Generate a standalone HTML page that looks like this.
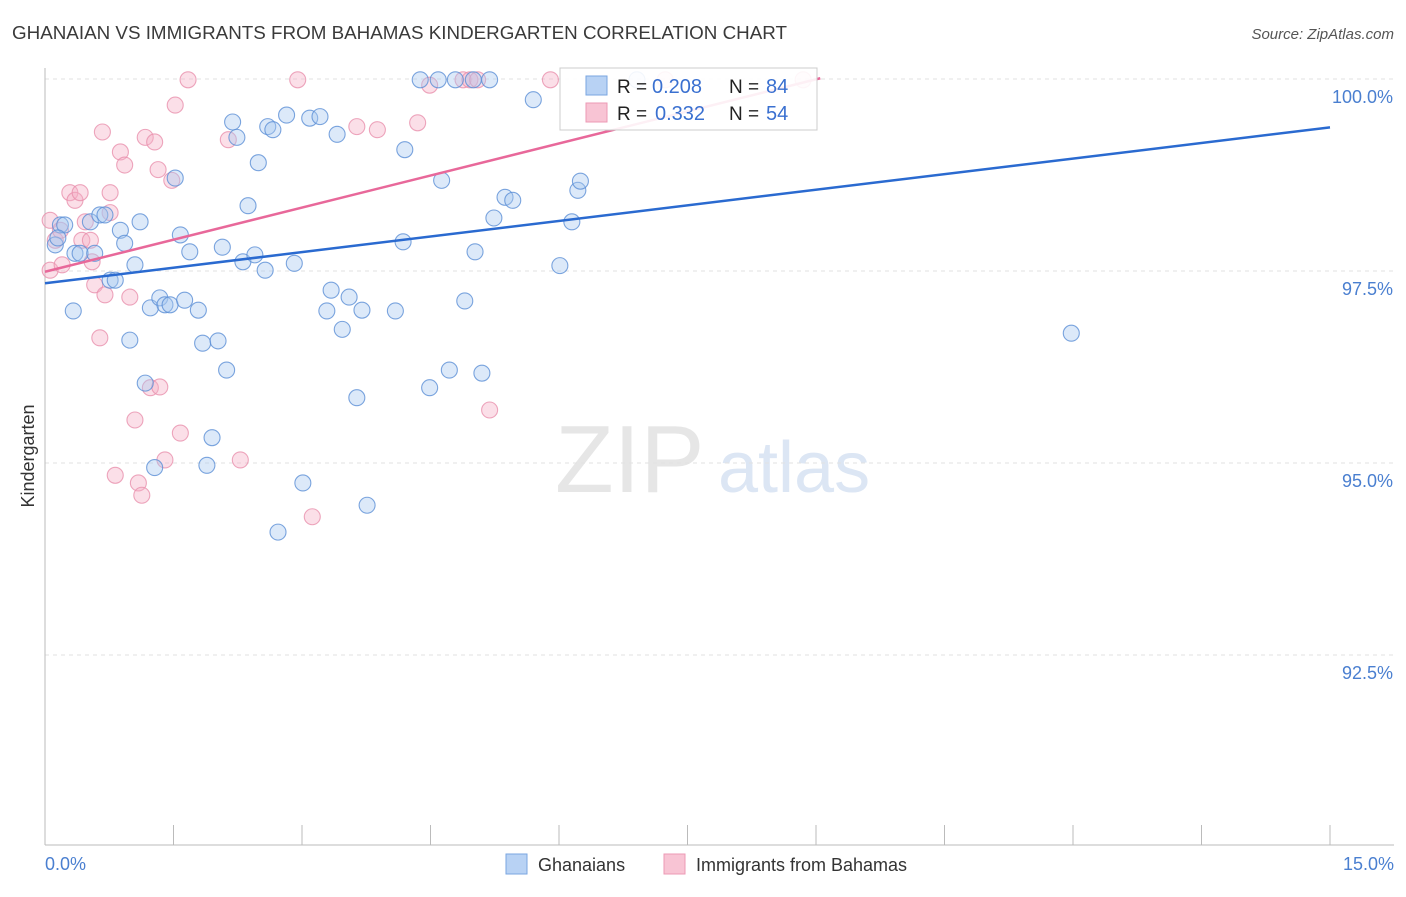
<!DOCTYPE html>
<html><head><meta charset="utf-8"><style>
body{margin:0;background:#fff;font-family:"Liberation Sans",sans-serif;}
svg text{font-family:"Liberation Sans",sans-serif;}
</style></head><body>
<svg id="chart" width="1406" height="892" xmlns="http://www.w3.org/2000/svg">
<text x="12" y="39" font-size="18" fill="#3a3a3a" textLength="775" lengthAdjust="spacingAndGlyphs">GHANAIAN VS IMMIGRANTS FROM BAHAMAS KINDERGARTEN CORRELATION CHART</text>
<text x="1394" y="39" font-size="15" fill="#555" text-anchor="end" font-style="italic">Source: ZipAtlas.com</text>
<g>
<text x="555" y="492" font-size="96" fill="#e6e6e6" font-family="Liberation Serif">ZIP</text>
<text x="718" y="492" font-size="72" fill="#dce6f4">atlas</text>
</g>
<g id="grid"></g>
<line x1="45" y1="68" x2="45" y2="845" stroke="#bbb"/>
<line x1="45" y1="845" x2="1394" y2="845" stroke="#bbb"/>
<g id="ticks"></g>
<text transform="translate(34,456) rotate(-90)" font-size="18" fill="#333" text-anchor="middle">Kindergarten</text>
<text x="45" y="870" font-size="18" fill="#4a7fd0">0.0%</text>
<text x="1394" y="870" font-size="18" fill="#4a7fd0" text-anchor="end">15.0%</text>
<g id="pts"></g>
<g id="trends"></g>
<g>
<rect x="560" y="68" width="257" height="62" fill="#fff" fill-opacity="0.9" stroke="#ccc"/>
<rect x="586" y="76" width="21" height="19" fill="#b8d2f4" stroke="#7aa6e0"/>
<rect x="586" y="103" width="21" height="19" fill="#f8c4d4" stroke="#ec9ab5"/>
<text x="617" y="93" font-size="19" fill="#222">R =</text>
<text x="652" y="93" font-size="20" fill="#3a70d0">0.208</text>
<text x="729" y="93" font-size="19" fill="#222">N =</text>
<text x="766" y="93" font-size="20" fill="#3a70d0">84</text>
<text x="617" y="120" font-size="19" fill="#222">R =</text>
<text x="655" y="120" font-size="20" fill="#3a70d0">0.332</text>
<text x="729" y="120" font-size="19" fill="#222">N =</text>
<text x="766" y="120" font-size="20" fill="#3a70d0">54</text>
</g>
<g>
<rect x="506" y="854" width="21" height="20" fill="#b8d2f4" stroke="#7aa6e0"/>
<text x="538" y="871" font-size="18" fill="#333">Ghanaians</text>
<rect x="664" y="854" width="21" height="20" fill="#f8c4d4" stroke="#ec9ab5"/>
<text x="696" y="871" font-size="18" fill="#333">Immigrants from Bahamas</text>
</g>
</svg>
<script>
const blueX=[0.12,0.18,0.23,0.15,0.35,0.33,0.41,0.53,0.58,0.64,0.70,0.76,0.82,0.88,0.93,0.99,1.05,1.11,1.17,1.23,1.28,1.34,1.40,1.46,1.52,1.58,1.63,1.69,1.79,1.84,1.89,1.95,2.02,2.07,2.12,2.19,2.24,2.31,2.37,2.45,2.49,2.57,2.60,2.66,2.72,2.82,2.91,3.01,3.09,3.21,3.29,3.34,3.41,3.47,3.55,3.64,3.70,3.76,4.09,4.18,4.20,4.38,4.49,4.59,4.63,4.72,4.79,4.90,5.00,5.02,5.10,5.19,5.24,5.37,5.46,5.70,6.01,6.15,6.22,6.25,6.91,11.98];
const blueY=[97.84,98.10,98.10,97.93,97.73,96.98,97.73,98.14,97.73,98.23,98.23,97.38,97.38,98.03,97.86,96.60,97.58,98.14,96.04,97.02,94.94,97.15,97.06,97.06,98.71,97.97,97.12,97.75,96.99,96.56,94.97,95.33,96.59,97.81,96.21,99.44,99.24,97.62,98.35,97.71,98.91,97.51,99.38,99.34,94.10,99.53,97.60,94.74,99.49,99.51,96.98,97.25,99.28,96.74,97.16,95.85,96.99,94.45,96.98,97.88,99.08,99.99,95.98,99.99,98.68,96.21,99.99,97.11,99.99,97.75,96.17,99.99,98.19,98.46,98.42,99.73,97.57,98.14,98.55,98.67,99.99,96.69];
const pinkX=[0.06,0.06,0.12,0.18,0.20,0.29,0.35,0.41,0.43,0.47,0.53,0.55,0.58,0.64,0.67,0.70,0.76,0.76,0.82,0.88,0.93,0.99,1.05,1.09,1.13,1.17,1.23,1.28,1.32,1.34,1.40,1.48,1.52,1.58,1.67,2.14,2.28,2.95,3.12,3.64,3.88,4.35,4.49,4.88,4.96,5.05,5.19,5.90,7.24,8.85];
const pinkY=[98.16,97.51,97.90,98.03,97.58,98.52,98.42,98.52,97.90,98.14,97.90,97.62,97.32,96.63,99.31,97.19,98.52,98.26,94.84,99.05,98.88,97.16,95.56,94.74,94.58,99.24,95.98,99.18,98.82,95.99,95.04,98.68,99.66,95.39,99.99,99.21,95.04,99.99,94.30,99.38,99.34,99.43,99.92,99.99,99.99,99.99,95.69,99.99,99.99,99.99];
const blueTrendX=[0,15];
const blueTrendY=[97.34,99.37];
const pinkTrendX=[0,9.05];
const pinkTrendY=[97.49,100.01];
const yTicks=[100,97.5,95,92.5];
const yTickLabels=["100.0%","97.5%","95.0%","92.5%"];
const NS="http://www.w3.org/2000/svg";
function sx(v){return 45+v*(1285/15);}
function sy(v){return 79+(100-v)*76.8;}
const grid=document.getElementById('grid');
yTicks.forEach((t,i)=>{
 const l=document.createElementNS(NS,'line');
 
 
 l.setAttribute('x1',45);l.setAttribute('x2',1394);l.setAttribute('y1',sy(t));l.setAttribute('y2',sy(t));
 l.setAttribute('stroke','#e2e2e2');l.setAttribute('stroke-dasharray','4,4');
 grid.appendChild(l);
 const tx=document.createElementNS(NS,'text');
 
 
 tx.setAttribute('x',1393);tx.setAttribute('y',sy(t)+24);tx.setAttribute('text-anchor','end');
 tx.setAttribute('font-size','18');tx.setAttribute('fill','#4a7fd0');tx.textContent=yTickLabels[i];
 grid.appendChild(tx);
});
const ticks=document.getElementById('ticks');
for(let i=0;i<=10;i++){
 const l=document.createElementNS(NS,'line');
 
 
 const x=sx(i*1.5);
 l.setAttribute('x1',x);l.setAttribute('x2',x);l.setAttribute('y1',825);l.setAttribute('y2',845);
 l.setAttribute('stroke','#bbb');ticks.appendChild(l);
}
const pts=document.getElementById('pts');
function dots(xs,ys,fill,stroke,name){
 xs.forEach((x,i)=>{
  const c=document.createElementNS(NS,'circle');
  
  
  c.setAttribute('cx',sx(x));c.setAttribute('cy',sy(ys[i]));c.setAttribute('r',8);
  c.setAttribute('fill',fill);c.setAttribute('fill-opacity','0.4');c.setAttribute('stroke',stroke);c.setAttribute('stroke-width','1.1');c.setAttribute('stroke-opacity','0.8');
  pts.appendChild(c);
 });
}
dots(pinkX,pinkY,'#f5b0c6','#e890ad','bahamas-point');
dots(blueX,blueY,'#a8c8f0','#5b8fd6','ghanaian-point');
const tr=document.getElementById('trends');
function trend(xs,ys,col,name){
 const l=document.createElementNS(NS,'line');
 
 
 l.setAttribute('x1',sx(xs[0]));l.setAttribute('y1',sy(ys[0]));l.setAttribute('x2',sx(xs[1]));l.setAttribute('y2',sy(ys[1]));
 l.setAttribute('stroke',col);l.setAttribute('stroke-width','2.5');
 tr.appendChild(l);
}
trend(blueTrendX,blueTrendY,'#2a6ad0','ghanaian-trendline');
trend(pinkTrendX,pinkTrendY,'#e8689a','bahamas-trendline');
</script>
</body></html>
